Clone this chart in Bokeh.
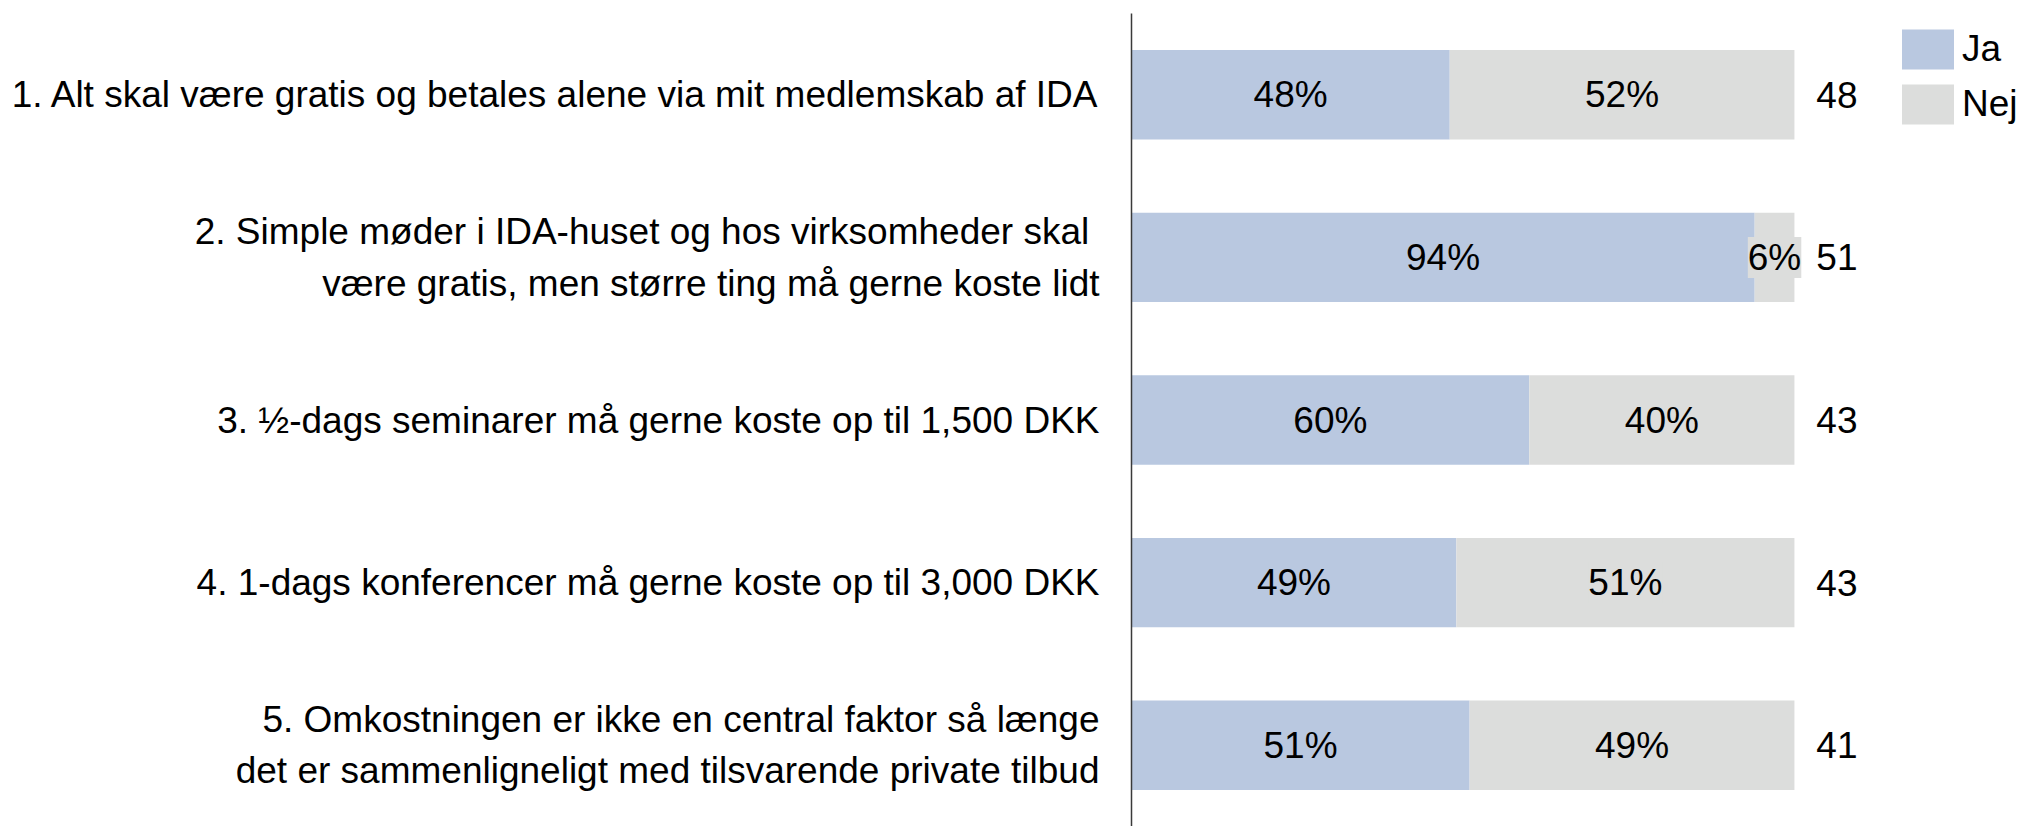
from bokeh.plotting import figure
from bokeh.models import ColumnDataSource, Range1d, FactorRange, LabelSet
from bokeh.embed import file_html
from bokeh.resources import INLINE
from bokeh.core.properties import value

categories = [
    "1. Alt skal være gratis og betales alene via mit medlemskab af IDA",
    "2. Simple møder i IDA-huset og hos virksomheder skal\u00a0\nvære gratis, men større ting må gerne koste lidt",
    "3. ½-dags seminarer må gerne koste op til 1,500 DKK",
    "4. 1-dags konferencer må gerne koste op til 3,000 DKK",
    "5. Omkostningen er ikke en central faktor så længe\ndet er sammenligneligt med tilsvarende private tilbud",
]
ja = [48, 94, 60, 49, 51]
nej = [52, 6, 40, 51, 49]
totals = [48, 51, 43, 43, 41]
series = ["Ja", "Nej"]

JA_COLOR = "#B9C8E0"
NEJ_COLOR = "#DCDDDC"
FONT = "Liberation Sans"
FS = "37px"

src = ColumnDataSource(dict(
    cat=categories,
    ja=[v / 100 for v in ja],
    nej=[v / 100 for v in nej],
    ja_mid=[v / 200 for v in ja],
    nej_mid=[(a + b / 2) / 100 for a, b in zip(ja, nej)],
    ja_txt=[f"{v}%" for v in ja],
    nej_txt=[f"{v}%" for v in nej],
    n_txt=[str(v) for v in totals],
    n_x=[1.033] * len(totals),
))

p = figure(width=2020, height=826,
           y_range=FactorRange(factors=categories[::-1]),
           x_range=Range1d(0, 1.341),
           output_backend="svg", toolbar_location=None,
           x_axis_location=None,
           min_border_left=1131, min_border_right=0,
           min_border_top=13, min_border_bottom=0)
p.outline_line_color = None
p.grid.visible = False

p.hbar_stack(["ja", "nej"], y="cat", height=0.55, color=[JA_COLOR, NEJ_COLOR],
             line_color=None, source=src, legend_label=series)

ax = p.yaxis[0]
ax.axis_line_color = "#3a3a3a"
ax.axis_line_width = 1.5
ax.major_tick_line_color = None
ax.minor_tick_line_color = None
ax.major_label_standoff = 26
ax.major_label_text_font = FONT
ax.major_label_text_font_size = FS
ax.major_label_text_color = "black"
ax.major_label_text_line_height = 1.25

common = dict(y="cat", source=src, text_align="center", text_baseline="middle",
              text_font=value(FONT), text_font_size=value(FS), text_color="black")
p.add_layout(LabelSet(x="ja_mid", text="ja_txt", **common))
p.add_layout(LabelSet(x="nej_mid", text="nej_txt", background_fill_color=NEJ_COLOR,
                      **common))
p.add_layout(LabelSet(x="n_x", y="cat", text="n_txt", source=src, text_align="left",
                      text_baseline="middle", text_font=value(FONT),
                      text_font_size=value(FS), text_color="black"))

lg = p.legend[0]
lg.location = (764, 697)
lg.padding = 0
lg.margin = 0
lg.border_line_color = None
lg.background_fill_alpha = 0
lg.glyph_width = 65
lg.glyph_height = 50
lg.label_height = 50
lg.spacing = 5
lg.label_standoff = 2
lg.label_text_font = FONT
lg.label_text_font_size = FS
lg.label_text_color = "black"

open("out.html", "w").write(file_html(p, INLINE))
